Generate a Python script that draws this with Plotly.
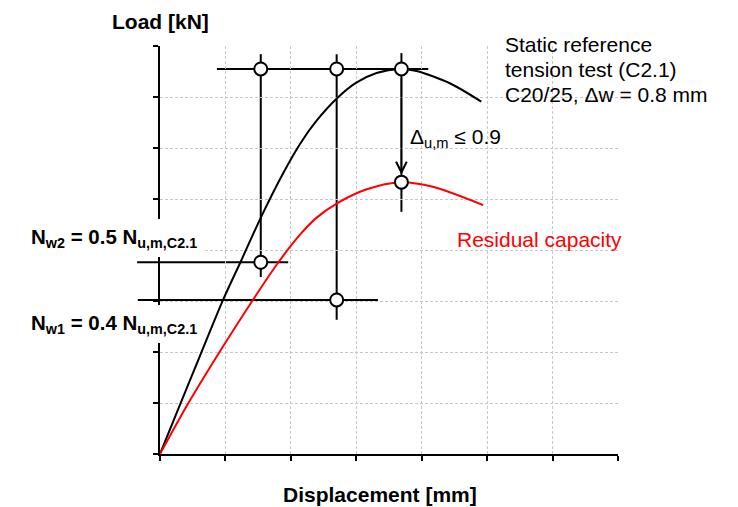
import plotly.graph_objects as go

# ---------------- data ----------------
# Static reference tension test (C2.1) – black curve
ref_x = [0, 0.30, 0.60, 0.97, 1.24, 1.55, 1.88, 2.14, 2.39, 2.71, 3.00, 3.31, 3.66, 3.92, 4.43, 4.91]
ref_y = [0, 0.95, 1.89, 3.04, 3.79, 4.66, 5.50, 6.08, 6.53, 6.98, 7.28, 7.47, 7.55, 7.51, 7.27, 6.91]

# Residual capacity – red curve
res_x = [0, 0.43, 0.92, 1.44, 1.81, 2.14, 2.39, 2.70, 3.16, 3.67, 4.17, 4.94]
res_y = [0, 0.99, 2.02, 3.06, 3.76, 4.30, 4.63, 4.91, 5.19, 5.33, 5.24, 4.88]

# open circle markers
mk_x = [1.54, 2.70, 3.69, 1.54, 2.70, 3.69]
mk_y = [7.55, 7.55, 7.55, 3.76, 3.02, 5.33]

# vertical guide lines: x, top, bottom
v_x = [1.54, 2.70, 3.69]
v_top = [7.84, 7.84, 7.86]
v_bot = [3.47, 2.63, 4.75]

# horizontal guide lines: y, left, right
h_y = [7.55, 3.76, 3.02]
h_x0 = [0.87, -0.35, -0.34]
h_x1 = [4.10, 1.96, 3.33]

x_ticks = [0, 1, 2, 3, 4, 5, 6, 7]
y_ticks = [0, 1, 2, 3, 4, 5, 6, 7, 8]
X_MIN, X_MAX = 0, 7
Y_MIN, Y_MAX = 0, 8

# ---------------- layout constants ----------------
W, H = 738, 507
ML, MR, MT, MB = 160, 119.5, 46, 53
FONT = "Liberation Sans, Arial, sans-serif"


def paper(px, py):
    return (px - ML) / (W - ML - MR), (H - MB - py) / (H - MT - MB)


def xdom(v):
    return (v - X_MIN) / (X_MAX - X_MIN)


fig = go.Figure()

shapes = []
for x, t, b in zip(v_x, v_top, v_bot):
    shapes.append(dict(type="line", xref="x", yref="y", x0=x, x1=x, y0=b, y1=t,
                       line=dict(color="black", width=2), layer="below"))
for y, a, b in zip(h_y, h_x0, h_x1):
    shapes.append(dict(type="line", xref="x domain", yref="y", x0=xdom(a), x1=xdom(b), y0=y, y1=y,
                       line=dict(color="black", width=2), layer="below"))
fig.update_layout(shapes=shapes)

fig.add_trace(go.Scatter(x=ref_x, y=ref_y, mode="lines",
                         line=dict(color="black", width=2, shape="spline", smoothing=0.8),
                         showlegend=False, hoverinfo="skip"))
fig.add_trace(go.Scatter(x=res_x, y=res_y, mode="lines",
                         line=dict(color="#ff0000", width=2, shape="spline", smoothing=0.8),
                         showlegend=False, hoverinfo="skip"))

fig.add_trace(go.Scatter(x=mk_x, y=mk_y, mode="markers",
                         marker=dict(symbol="circle", size=13, color="white", line=dict(color="black", width=2)),
                         showlegend=False, hoverinfo="skip", cliponaxis=False))

ann = []


def text(s, px, py, size=21, color="black", xanchor="left", yanchor="middle", **kw):
    x, y = paper(px, py)
    d = dict(text=s, x=x, y=y, xref="paper", yref="paper", showarrow=False, xanchor=xanchor, yanchor=yanchor,
             font=dict(family=FONT, size=size, color=color))
    d.update(kw)
    ann.append(d)


text("<b>Load [kN]</b>", 161, 21, xanchor="center")
text("<b>Displacement [mm]</b>", 380.5, 494, xanchor="center")
text("Static reference", 503, 44)
text("tension test (C2.1)", 503, 69)
text("C20/25, \u0394w = 0.8 mm", 503, 94)
text("\u0394<sub>u,m</sub> \u2264 0.9", 408, 138)
text("Residual capacity", 455, 239, color="#ff0000")
text("<b>N<sub>w2</sub> = 0.5 N<sub>u,m,C2.1</sub></b>", 25, 238, size=20.5, bgcolor="white", borderpad=6,
     borderwidth=0)
text("<b>N<sub>w1</sub> = 0.4 N<sub>u,m,C2.1</sub></b>", 25, 324, size=20.5, bgcolor="white", borderpad=6,
     borderwidth=0)

# arrow from peak of reference curve to peak of residual curve
ann.append(dict(x=mk_x[5], y=mk_y[5], ax=mk_x[2], ay=mk_y[2], xref="x", yref="y", axref="x", ayref="y",
                text="", showarrow=True, arrowhead=5, arrowsize=1.4, arrowwidth=1.5, arrowcolor="black",
                standoff=7.5, startstandoff=7.5))

fig.update_layout(annotations=ann)

axis_common = dict(showline=True, linecolor="black", linewidth=2, ticks="outside", ticklen=5, tickwidth=2,
                   tickcolor="black", showticklabels=False, showgrid=True, gridcolor="#c8c8c8", gridwidth=1,
                   griddash="3px,2px", zeroline=False, fixedrange=True)
fig.update_xaxes(range=[X_MIN, X_MAX], tickvals=x_ticks, **axis_common)
fig.update_yaxes(range=[Y_MIN, Y_MAX], tickvals=y_ticks, **axis_common)

fig.update_layout(width=W, height=H, margin=dict(l=ML, r=MR, t=MT, b=MB, pad=0),
                  paper_bgcolor="white", plot_bgcolor="white", font=dict(family=FONT), showlegend=False)

fig.write_html("out.html")
